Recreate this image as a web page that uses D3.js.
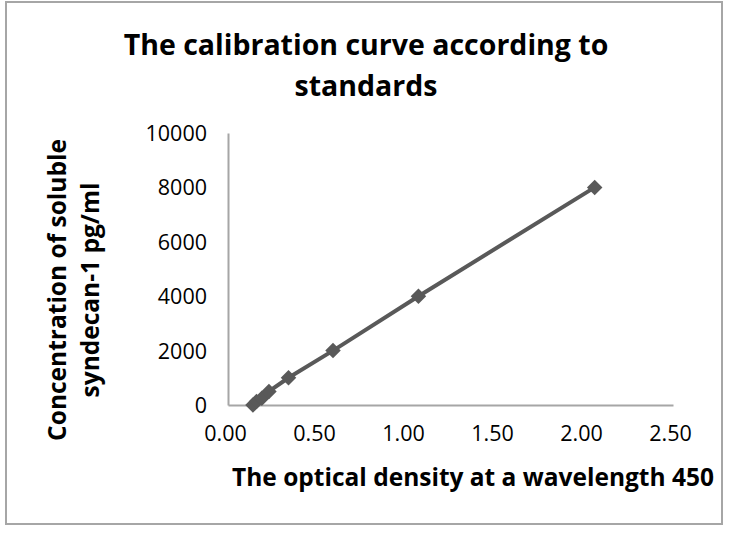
<!DOCTYPE html>
<html>
<head>
<meta charset="utf-8">
<script src="https://cdn.jsdelivr.net/npm/d3@7"></script>
<style>
  body { margin: 0; background: #fff; }
  text { font-family: 'Open Sans', sans-serif; fill: #000; }
</style>
</head>
<body>
<svg id="chart" width="742" height="537"></svg>
<script>
// standards: optical density vs concentration
var od = [0.14, 0.16, 0.19, 0.23, 0.34, 0.59, 1.07, 2.06]
var conc = [0, 125, 250, 500, 1000, 2000, 4000, 8000]
var xTicks = [0, 0.5, 1, 1.5, 2, 2.5]
var yTicks = [0, 2000, 4000, 6000, 8000, 10000]

var svg = d3.select('#chart')

svg.append('rect')
  .attr('x', 6).attr('y', 2)
  .attr('width', 716).attr('height', 522)
  .attr('fill', '#fff')
  .attr('stroke', '#a6a6a6')
  .attr('stroke-width', 2)

var x = d3.scaleLinear().domain([0, 2.5]).range([228, 673])
var y = d3.scaleLinear().domain([0, 10000]).range([405, 133])

var xAxis = svg.append('g')
  .attr('transform', 'translate(0,' + y(0) + ')')
  .call(d3.axisBottom(x).tickValues(xTicks).tickSize(0).tickPadding(21).tickFormat(d3.format('.2f')))
var yAxis = svg.append('g')
  .attr('transform', 'translate(' + x(0) + ',0)')
  .call(d3.axisLeft(y).tickValues(yTicks).tickSize(0).tickPadding(21).tickFormat(d3.format('d')))

svg.selectAll('.domain').attr('stroke', '#a6a6a6').attr('stroke-width', 2)
svg.selectAll('.tick text')
  .attr('font-family', 'Open Sans')
  .attr('font-size', 21.5)
  .attr('fill', '#000')
yAxis.selectAll('.tick text').attr('dy', '0.35em')
xAxis.selectAll('.tick text').attr('dx', '-3')

var data = od.map(function (d, i) { return {x: d, y: conc[i]} })

var line = d3.line()
  .x(function (d) { return x(d.x) })
  .y(function (d) { return y(d.y) })

svg.append('path')
  .datum(data)
  .attr('d', line)
  .attr('fill', 'none')
  .attr('stroke', '#595959')
  .attr('stroke-width', 4)

svg.selectAll('.pt')
  .data(data)
  .enter().append('path')
  .attr('class', 'pt')
  .attr('d', d3.symbol(d3.symbolSquare, 120))
  .attr('transform', function (d) { return 'translate(' + x(d.x) + ',' + y(d.y) + ') rotate(45)' })
  .attr('fill', '#595959')

// titles
var title = svg.append('text')
  .attr('text-anchor', 'middle')
  .attr('font-weight', 'bold')
  .attr('font-size', 28.5)
title.append('tspan').attr('x', 366).attr('y', 55).text('The calibration curve according to')
title.append('tspan').attr('x', 366).attr('y', 96).text('standards')

svg.append('text')
  .attr('x', 473).attr('y', 486)
  .attr('text-anchor', 'middle')
  .attr('font-weight', 'bold')
  .attr('font-size', 24.5)
  .text('The optical density at a wavelength 450')

var yt = svg.append('text')
  .attr('transform', 'translate(0,290) rotate(-90)')
  .attr('text-anchor', 'middle')
  .attr('font-weight', 'bold')
  .attr('font-size', 24.5)
yt.append('tspan').attr('x', 0).attr('y', 66).text('Concentration of soluble')
yt.append('tspan').attr('x', 0).attr('y', 99).text('syndecan-1 pg/ml')
</script>
</body>
</html>
